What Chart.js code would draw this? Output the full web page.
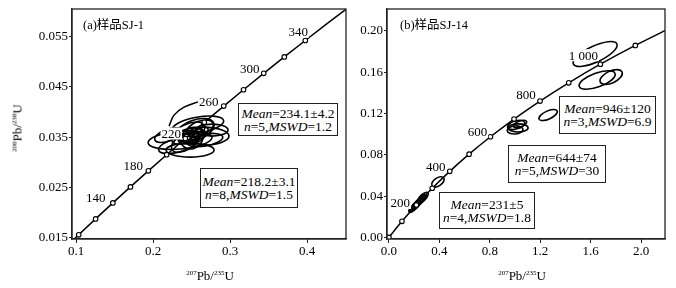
<!DOCTYPE html>
<html>
<head>
<meta charset="utf-8">
<script src="https://cdn.jsdelivr.net/npm/chart.js@4.4.0/dist/chart.umd.min.js"></script>
<style>
  body { margin: 0; background: #fff; }
  #wrap { position: relative; width: 676px; height: 288px; font-family: "Liberation Serif", "Noto Sans CJK SC", serif; color: #000; }
  canvas { position: absolute; left: 0; top: 0; }
  .t { position: absolute; white-space: nowrap; line-height: 1; font-size: 13px; }
  .box { position: absolute; box-sizing: border-box; border: 1px solid #222; background: #fff; font-size: 13.5px; line-height: 13px;
         display: flex; flex-direction: column; justify-content: center; align-items: center; white-space: nowrap; }
  .sp { font-size: 7px; position: relative; top: -5px; }
  i { font-style: italic; }
</style>
</head>
<body>
<div id="wrap">
  <canvas id="chartA" width="676" height="288"></canvas>
  <canvas id="chartB" width="676" height="288"></canvas>

  <div class="t" style="left:83px;top:19px;font-size:12.5px">(a)样品SJ-1</div>
  <div class="t" style="left:400px;top:19px;font-size:12.5px">(b)样品SJ-14</div>

  <div class="t" style="left:17px;top:128px;transform:translate(-50%,-50%) rotate(-90deg)"><span class="sp">206</span>Pb/<span class="sp">238</span>U</div>
  <div class="t" style="left:210px;top:275px;transform:translate(-50%,-50%)"><span class="sp">207</span>Pb/<span class="sp">235</span>U</div>
  <div class="t" style="left:522px;top:275px;transform:translate(-50%,-50%)"><span class="sp">207</span>Pb/<span class="sp">235</span>U</div>

  <div class="box" style="left:238px;top:103px;width:100px;height:33px"><div><i>Mean</i>=234.1±4.2</div><div><i>n</i>=5,<i>MSWD</i>=1.2</div></div>
  <div class="box" style="left:200px;top:168px;width:98px;height:40px"><div><i>Mean</i>=218.2±3.1</div><div><i>n</i>=8,<i>MSWD</i>=1.5</div></div>
  <div class="box" style="left:559px;top:96px;width:97px;height:38px"><div><i>Mean</i>=946±120</div><div><i>n</i>=3,<i>MSWD</i>=6.9</div></div>
  <div class="box" style="left:508px;top:145px;width:98px;height:38px"><div><i>Mean</i>=644±74</div><div><i>n</i>=5,<i>MSWD</i>=30</div></div>
  <div class="box" style="left:439px;top:192px;width:96px;height:37px"><div><i>Mean</i>=231±5</div><div><i>n</i>=4,<i>MSWD</i>=1.8</div></div>
</div>

<script>
// ---- panel (a) SJ-1 ----
const concAgesA = [80, 100, 120, 140, 160, 180, 200, 220, 240, 260, 280, 300, 320, 340, 360, 380];
const concXA = [0.08198, 0.10350, 0.12545, 0.14784, 0.17067, 0.19396, 0.21770, 0.24192, 0.26662, 0.29182, 0.31751, 0.34374, 0.37048, 0.39776, 0.42552, 0.45388];
const concYA = [0.012487, 0.015633, 0.018789, 0.021955, 0.025131, 0.028316, 0.031511, 0.034717, 0.037932, 0.041157, 0.044392, 0.047638, 0.050893, 0.054158, 0.057434, 0.060719];
const markAgesA = [100, 120, 140, 160, 180, 200, 220, 240, 260, 280, 300, 320, 340];
const labelAgesA = [140, 180, 220, 260, 300, 340];
const labelTextA = ['140', '180', '220', '260', '300', '340'];

// ellipses: centre x, centre y, half width (x units), half height (y units), tilt (deg)
const ellXA = [0.2351, 0.2649, 0.2481, 0.2584, 0.2455, 0.2545, 0.2416, 0.2610, 0.2325, 0.2675, 0.2506, 0.2766, 0.2195, 0.2530, 0.2580, 0.2470, 0.2620];
const ellYA = [0.03441, 0.03520, 0.03243, 0.03738, 0.03579, 0.03639, 0.03401, 0.03678, 0.03342, 0.03441, 0.03480, 0.03639, 0.03540, 0.03560, 0.03500, 0.03470, 0.03600];
const ellWA = [0.0416, 0.0338, 0.0312, 0.0338, 0.0234, 0.0260, 0.0195, 0.0182, 0.0260, 0.0234, 0.0156, 0.0208, 0.0182, 0.0130, 0.0117, 0.0143, 0.0104];
const ellHA = [0.00178, 0.00178, 0.00139, 0.00158, 0.00178, 0.00198, 0.00158, 0.00139, 0.00139, 0.00119, 0.00198, 0.00119, 0.00119, 0.00099, 0.00089, 0.00099, 0.00079];
const ellTA = [5, 0, 0, 10, 25, 20, 30, 20, 15, 10, 40, 0, 20, 20, 30, 10, 25];

// leader line near the cluster
const leaderXA = [0.2208, 0.2273, 0.2403, 0.2610];
const leaderYA = [0.03718, 0.03936, 0.04094, 0.04213];

const xTicksA = [0.1, 0.2, 0.3, 0.4];
const yTicksA = [0.015, 0.025, 0.035, 0.045, 0.055];

// ---- panel (b) SJ-14 ----
const concAgesB = [0, 100, 200, 300, 400, 500, 600, 700, 800, 900, 1000, 1100, 1200];
const concXB = [0, 0.1035, 0.2177, 0.3437, 0.4828, 0.6362, 0.8056, 0.9925, 1.1987, 1.4263, 1.6774, 1.9545, 2.2603];
const concYB = [0, 0.01563, 0.03151, 0.04764, 0.06402, 0.08065, 0.09754, 0.11470, 0.13213, 0.14983, 0.16782, 0.18606, 0.20459];
const markAgesB = [0, 100, 200, 300, 400, 500, 600, 700, 800, 900, 1000, 1100];
const labelAgesB = [200, 400, 600, 800, 1000];
const labelTextB = ['200', '400', '600', '800', '1 000'];

const ellXB = [1.636, 1.652, 1.763, 1.263, 1.009, 1.025, 1.001, 1.040, 0.389, 0.205, 0.228, 0.250, 0.270, 0.240, 0.218];
const ellYB = [0.1777, 0.1525, 0.1554, 0.1186, 0.1090, 0.1061, 0.1041, 0.1099, 0.0538, 0.0300, 0.0330, 0.0358, 0.0385, 0.0345, 0.0318];
const ellWB = [0.190, 0.151, 0.095, 0.079, 0.071, 0.079, 0.063, 0.056, 0.056, 0.063, 0.063, 0.063, 0.056, 0.071, 0.071];
const ellHB = [0.0078, 0.0068, 0.0058, 0.0039, 0.0039, 0.0039, 0.0039, 0.0029, 0.0039, 0.0024, 0.0024, 0.0024, 0.0029, 0.0020, 0.0020];
const ellTB = [25, 20, 25, 25, 15, 0, 5, 20, 35, 46, 46, 46, 46, 46, 46];

const xTicksB = [0.0, 0.4, 0.8, 1.2, 1.6, 2.0];
const yTicksB = [0.00, 0.04, 0.08, 0.12, 0.16, 0.20];

Chart.defaults.font.family = '"Liberation Serif", serif';
Chart.defaults.font.size = 13;
Chart.defaults.color = '#000';

const concordiaPlugin = {
    id: 'concordia',
    beforeDatasetsDraw(chart, args, opts) {
        const { ctx, chartArea, scales: { x, y } } = chart;
        ctx.save();
        ctx.beginPath();
        ctx.rect(chartArea.left, chartArea.top, chartArea.width, chartArea.height);
        ctx.clip();
        ctx.strokeStyle = '#000';
        ctx.lineWidth = 1.6;
        opts.ex.forEach((cx, i) => {
            const px = x.getPixelForValue(cx);
            const py = y.getPixelForValue(opts.ey[i]);
            const rx = Math.abs(x.getPixelForValue(cx + opts.ew[i]) - px);
            const ry = Math.abs(y.getPixelForValue(opts.ey[i] + opts.eh[i]) - py);
            ctx.beginPath();
            ctx.ellipse(px, py, rx, ry, -opts.et[i] * Math.PI / 180, 0, Math.PI * 2);
            ctx.stroke();
        });
        ctx.restore();
    },
    afterDatasetsDraw(chart, args, opts) {
        const { ctx, chartArea, scales: { x, y } } = chart;
        ctx.save();
        ctx.font = '13px "Liberation Serif", serif';
        ctx.textAlign = 'center';
        ctx.textBaseline = 'middle';
        opts.labelAges.forEach((age, i) => {
            const k = opts.ages.indexOf(age);
            const px = x.getPixelForValue(opts.cx[k]) + opts.offsets[i][0];
            const py = y.getPixelForValue(opts.cy[k]) + opts.offsets[i][1];
            const w = ctx.measureText(opts.labels[i]).width;
            ctx.fillStyle = '#fff';
            ctx.fillRect(px - w / 2 - 1, py - 6, w + 2, 12);
            ctx.fillStyle = '#000';
            ctx.fillText(opts.labels[i], px, py + 1);
        });
        // full frame round the plot
        ctx.strokeStyle = '#222';
        ctx.lineWidth = 1.3;
        ctx.strokeRect(chartArea.left, chartArea.top, chartArea.width, chartArea.height);
        ctx.restore();
    }
};

function makeChart(id, p) {
    return new Chart(document.getElementById(id), {
        type: 'scatter',
        data: {
            datasets: [
                {
                    data: p.cx.map((v, i) => ({ x: v, y: p.cy[i] })),
                    showLine: true,
                    cubicInterpolationMode: 'monotone',
                    borderColor: '#000',
                    borderWidth: 1.5,
                    pointRadius: p.ages.map(a => p.marks.includes(a) ? 2.3 : 0),
                    pointBackgroundColor: '#fff',
                    pointBorderColor: '#000',
                    pointBorderWidth: 1.1
                },
                ...(p.leaderX ? [{
                    data: p.leaderX.map((v, i) => ({ x: v, y: p.leaderY[i] })),
                    showLine: true,
                    tension: 0.4,
                    borderColor: '#000',
                    borderWidth: 1.5,
                    pointRadius: 0
                }] : [])
            ]
        },
        plugins: [concordiaPlugin],
        options: {
            responsive: false,
            animation: false,
            events: [],
            layout: { padding: p.padding },
            plugins: {
                legend: { display: false },
                tooltip: { enabled: false },
                concordia: {
                    ex: p.ex, ey: p.ey, ew: p.ew, eh: p.eh, et: p.et,
                    ages: p.ages, cx: p.cx, cy: p.cy,
                    labelAges: p.labelAges, labels: p.labels, offsets: p.offsets
                }
            },
            scales: {
                x: {
                    type: 'linear',
                    min: p.xmin, max: p.xmax,
                    afterBuildTicks: s => { s.ticks = p.xticks.map(v => ({ value: v })); },
                    afterFit: s => { s.height = 30; },
                    ticks: { autoSkip: false, maxRotation: 0, padding: 1, callback: v => v.toFixed(p.xdec) },
                    grid: { drawOnChartArea: false, tickLength: 4, color: '#222' },
                    border: { color: '#222', width: 1.3 }
                },
                y: {
                    type: 'linear',
                    min: p.ymin, max: p.ymax,
                    afterBuildTicks: s => { s.ticks = p.yticks.map(v => ({ value: v })); },
                    afterFit: s => { s.width = 40; },
                    ticks: { autoSkip: false, padding: 1, callback: v => v.toFixed(p.ydec) },
                    grid: { drawOnChartArea: false, tickLength: 3, color: '#222' },
                    border: { color: '#222', width: 1.3 }
                }
            }
        }
    });
}

makeChart('chartA', {
    cx: concXA, cy: concYA, ages: concAgesA, marks: markAgesA,
    labelAges: labelAgesA, labels: labelTextA,
    offsets: [[-17, -5], [-15, -5], [-14, -5], [-15, -4], [-14, -5], [-7, -9]],
    ex: ellXA, ey: ellYA, ew: ellWA, eh: ellHA, et: ellTA,
    leaderX: leaderXA, leaderY: leaderYA,
    xmin: 0.0948, xmax: 0.4506, ymin: 0.0148, ymax: 0.0604,
    xticks: xTicksA, yticks: yTicksA, xdec: 1, ydec: 3,
    padding: { left: 32, right: 330, top: 9, bottom: 19 }
});

makeChart('chartB', {
    cx: concXB, cy: concYB, ages: concAgesB, marks: markAgesB,
    labelAges: labelAgesB, labels: labelTextB,
    offsets: [[-16, -2], [-14, -5], [-13, -5], [-14, -6], [-17, -9]],
    ex: ellXB, ey: ellYB, ew: ellWB, eh: ellHB, et: ellTB,
    xmin: -0.015, xmax: 2.19, ymin: -0.0015, ymax: 0.2213,
    xticks: xTicksB, yticks: yTicksB, xdec: 1, ydec: 2,
    padding: { left: 347, right: 11, top: 9, bottom: 19 }
});
</script>
</body>
</html>
